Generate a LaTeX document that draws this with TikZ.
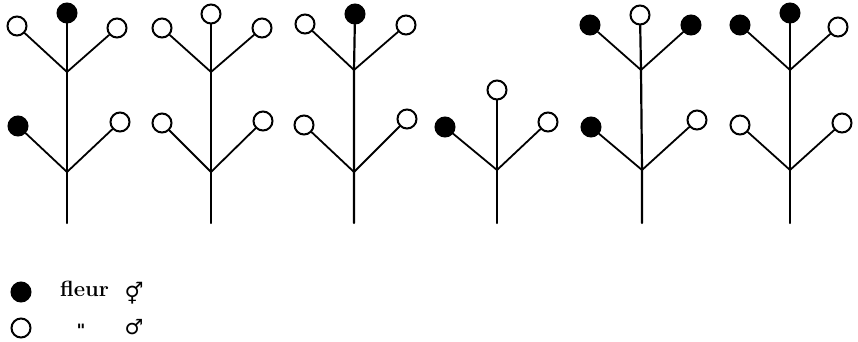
\documentclass[tikz,border=0pt]{standalone}
\usepackage{fontspec}
\newfontfamily\symfont{DejaVu Sans}
\begin{document}
\begin{tikzpicture}[x=1pt,y=-1pt,
  stem/.style={line width=2.2pt, line cap=round},
  branch/.style={line width=1.8pt, line cap=round},
  fl/.style={circle, draw, line width=2pt, minimum size=19pt, inner sep=0pt},
  fem/.style={fl, fill=black},
  mal/.style={fl, fill=white},
  lbl/.style={inner sep=0pt}]
\useasboundingbox (0,0) rectangle (858,342);
% plant 1
\coordinate (b1) at (67,223); \coordinate (l1) at (67,172); \coordinate (u1) at (67,72);
\node[fem] (t1) at (67,13) {}; \node[mal] (ul1) at (17,26) {}; \node[mal] (ur1) at (117,28) {};
\node[fem] (ll1) at (18,126) {}; \node[mal] (lr1) at (120,122) {};
% plant 2
\coordinate (b2) at (211,223); \coordinate (l2) at (211,172); \coordinate (u2) at (211,72);
\node[mal] (t2) at (211,14) {}; \node[mal] (ul2) at (162,28) {}; \node[mal] (ur2) at (262,28) {};
\node[mal] (ll2) at (162,123) {}; \node[mal] (lr2) at (263,121) {};
% plant 3
\coordinate (b3) at (354,223); \coordinate (l3) at (354,172); \coordinate (u3) at (354,70);
\node[fem] (t3) at (355,14) {}; \node[mal] (ul3) at (305,24) {}; \node[mal] (ur3) at (406,25) {};
\node[mal] (ll3) at (304,125) {}; \node[mal] (lr3) at (407,119) {};
% plant 4
\coordinate (b4) at (497,223); \coordinate (l4) at (497,170);
\node[mal] (t4) at (497,90) {}; \node[fem] (ll4) at (445,127) {}; \node[mal] (lr4) at (548,122) {};
% plant 5
\coordinate (b5) at (642,223); \coordinate (l5) at (642,170); \coordinate (u5) at (641,70);
\node[mal] (t5) at (640,15) {}; \node[fem] (ul5) at (590,25) {}; \node[fem] (ur5) at (691,25) {};
\node[fem] (ll5) at (591,127) {}; \node[mal] (lr5) at (697,120) {};
% plant 6
\coordinate (b6) at (790,223); \coordinate (l6) at (790,170); \coordinate (u6) at (790,70);
\node[fem] (t6) at (790,13) {}; \node[fem] (ul6) at (740,25) {}; \node[mal] (ur6) at (838,27) {};
\node[mal] (ll6) at (740,125) {}; \node[mal] (lr6) at (842,123) {};
% stems and branches
\foreach \i in {1,2,3,5,6}{
  \draw[stem] (b\i) -- (l\i) -- (u\i) -- (t\i);
  \draw[branch] (u\i) -- (ul\i);
  \draw[branch] (u\i) -- (ur\i);
  \draw[branch] (l\i) -- (ll\i);
  \draw[branch] (l\i) -- (lr\i);
}
\draw[stem] (b4) -- (l4) -- (t4);
\draw[branch] (l4) -- (ll4);
\draw[branch] (l4) -- (lr4);
% legend
\node[fem] (kf) at (21,292) {};
\node[mal] (km) at (21,328) {};
\node[lbl, anchor=west, font=\fontsize{22}{22}\selectfont\bfseries] (kt) at (60,289) {fleur};
\node[lbl, font=\symfont\fontsize{21}{21}\selectfont\bfseries] (ks1) at (134,293) {⚥};
\node[lbl, font=\symfont\fontsize{17}{17}\selectfont\bfseries] (kd) at (81,330) {"};
\node[lbl, font=\symfont\fontsize{21}{21}\selectfont\bfseries] (ks2) at (134,327) {♂};
\end{tikzpicture}
\end{document}
